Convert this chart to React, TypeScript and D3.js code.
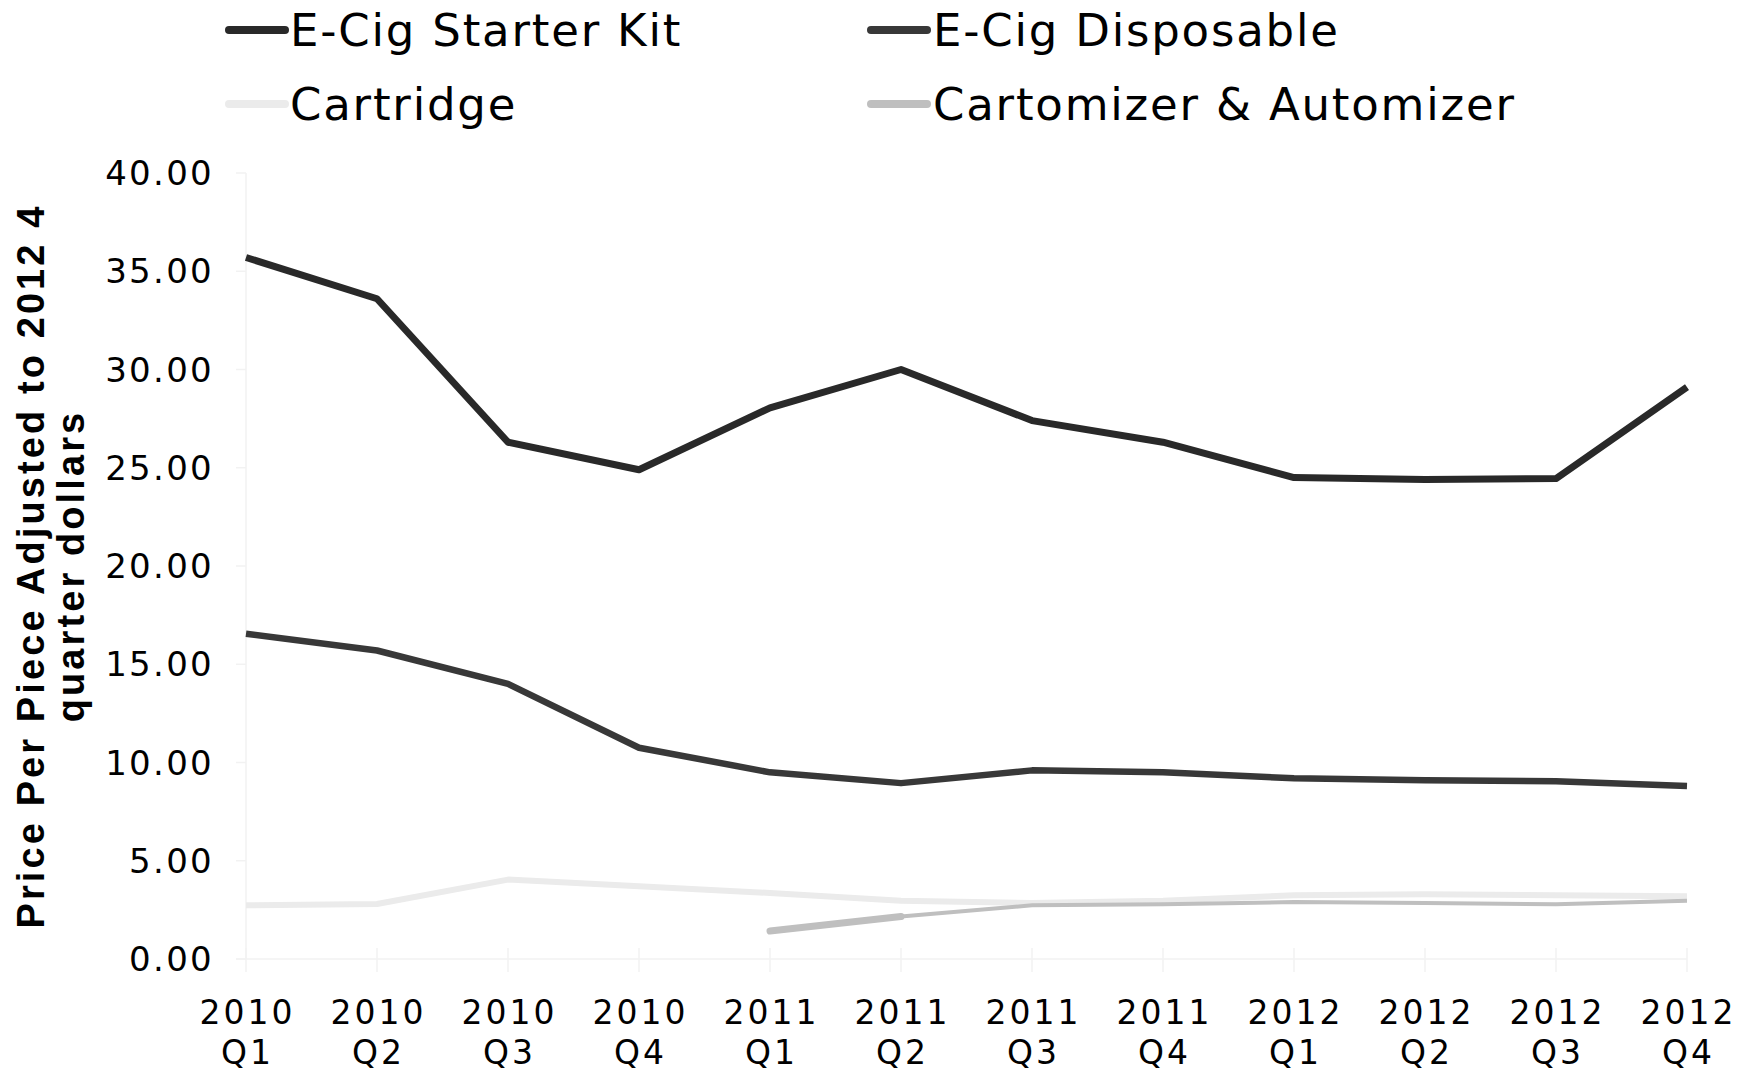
import React from "react";
import * as d3 from "d3";

const categories = ["2010 Q1","2010 Q2","2010 Q3","2010 Q4","2011 Q1","2011 Q2","2011 Q3","2011 Q4","2012 Q1","2012 Q2","2012 Q3","2012 Q4"];
const starterKit = [35.7, 33.6, 26.3, 24.9, 28.05, 30.0, 27.4, 26.3, 24.5, 24.4, 24.45, 29.1];
const disposable = [16.55, 15.7, 14.0, 10.75, 9.5, 8.95, 9.6, 9.5, 9.2, 9.1, 9.05, 8.8];
const cartridge = [2.73, 2.8, 4.04, 3.7, 3.36, 2.96, 2.85, 2.96, 3.24, 3.3, 3.24, 3.19];
const cartomizer: (number | null)[] = [null, null, null, null, 1.42, 2.16, 2.73, 2.79, 2.9, 2.85, 2.79, 2.96];
const yTicks = [0, 5, 10, 15, 20, 25, 30, 35, 40];

const W = 1752, H = 1072;
const FONT = "'DejaVu Sans', Verdana, sans-serif";
const TITLE_FONT = "'Liberation Sans', Arial, sans-serif";

export default function App() {
  const x = d3.scalePoint<string>().domain(categories).range([246, 1687]);
  const y = d3.scaleLinear().domain([0, 40]).range([959, 173]);
  const line = d3.line<number | null>()
    .defined((d) => d !== null)
    .x((_, i) => x(categories[i])!)
    .y((d) => y(d as number));
  const firstSeg = cartomizer.map((v, i) => (i <= 5 ? v : null));

  const series = [
    { name: "Cartridge", data: cartridge as (number | null)[], color: "#ebebeb", w: 6 },
    { name: "Cartomizer & Automizer", data: cartomizer, color: "#bfbfbf", w: 4 },
    { name: "E-Cig Disposable", data: disposable as (number | null)[], color: "#383838", w: 6.5 },
    { name: "E-Cig Starter Kit", data: starterKit as (number | null)[], color: "#292929", w: 7 },
  ];
  const legend = [
    { name: "E-Cig Starter Kit", color: "#292929", lx: 229, tx: 290, ly: 30 },
    { name: "E-Cig Disposable", color: "#383838", lx: 871, tx: 933, ly: 30 },
    { name: "Cartridge", color: "#ebebeb", lx: 229, tx: 290, ly: 104 },
    { name: "Cartomizer & Automizer", color: "#bfbfbf", lx: 871, tx: 933, ly: 104 },
  ];

  return (
    <svg width={W} height={H} style={{ position: "absolute", left: 0, top: 0, background: "#fff" }}>
      <rect width={W} height={H} fill="#fff" />
      <line x1={246} x2={246} y1={173} y2={959} stroke="#f2f2f2" strokeWidth={1.5} />
      <line x1={236} x2={1687} y1={959} y2={959} stroke="#f2f2f2" strokeWidth={1.5} />
      {yTicks.map((t) => (
        <g key={t}>
          <line x1={236} x2={246} y1={y(t)} y2={y(t)} stroke="#f2f2f2" strokeWidth={1.5} />
          <text x={214} y={y(t)} textAnchor="end" dominantBaseline="central" fontFamily={FONT} fontSize={34} letterSpacing={2.3} fill="#000">
            {t.toFixed(2)}
          </text>
        </g>
      ))}
      {categories.map((c) => {
        const [yr, q] = c.split(" ");
        return (
          <g key={c}>
            <line x1={x(c)} x2={x(c)} y1={948} y2={972} stroke="#f2f2f2" strokeWidth={1.5} />
            <text x={x(c)! + 1.5} y={1012} textAnchor="middle" dominantBaseline="central" fontFamily={FONT} fontSize={33} letterSpacing={3} fill="#000">{yr}</text>
            <text x={x(c)! + 1.5} y={1052} textAnchor="middle" dominantBaseline="central" fontFamily={FONT} fontSize={33} letterSpacing={3} fill="#000">{q}</text>
          </g>
        );
      })}
      <g transform="translate(0,566) rotate(-90)">
        <text x={0} y={44} textAnchor="middle" fontFamily={TITLE_FONT} fontWeight="bold" fontSize={38} letterSpacing={3.1} fill="#000">
          Price Per Piece Adjusted to 2012 4
        </text>
        <text x={0} y={84} textAnchor="middle" fontFamily={TITLE_FONT} fontWeight="bold" fontSize={38} letterSpacing={3.1} fill="#000">
          quarter dollars
        </text>
      </g>
      {series.map((s) => (
        <path key={s.name} d={line(s.data) || ""} fill="none" stroke={s.color} strokeWidth={s.w} strokeLinejoin="round" />
      ))}
      <path d={line(firstSeg) || ""} fill="none" stroke="#bfbfbf" strokeWidth={7} strokeLinecap="round" />
      {legend.map((l) => (
        <g key={l.name}>
          <line x1={l.lx} x2={l.lx + 56} y1={l.ly} y2={l.ly} stroke={l.color} strokeWidth={8} strokeLinecap="round" />
          <text x={l.tx} y={l.ly} dominantBaseline="central" fontFamily={FONT} fontSize={45} letterSpacing={1.8} fill="#000">{l.name}</text>
        </g>
      ))}
    </svg>
  );
}
